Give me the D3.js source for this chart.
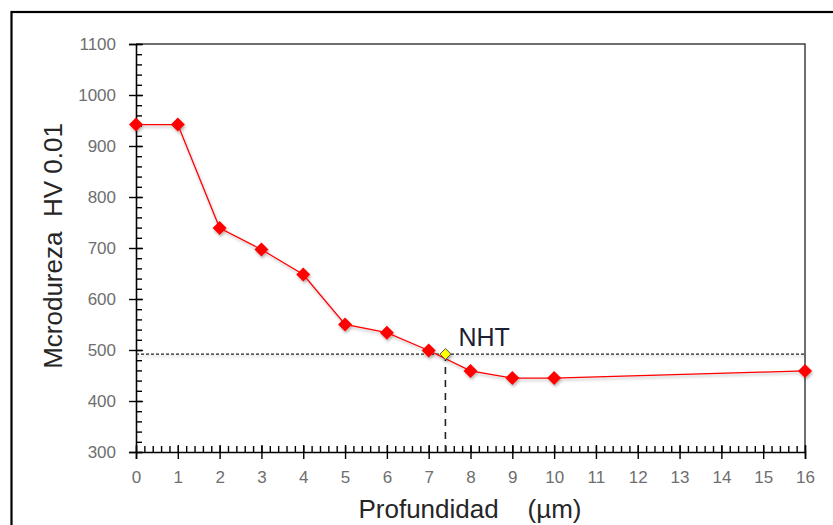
<!DOCTYPE html>
<html>
<head>
<meta charset="utf-8">
<script src="https://cdn.jsdelivr.net/npm/d3@7"></script>
<style>
  body { margin: 0; background: #fff; }
  text { font-family: "Liberation Sans", Arial, sans-serif; }
</style>
</head>
<body>
<div id="wrapper"></div>
<script>
const depth = [0, 1, 2, 3, 4, 5, 6, 7, 8, 9, 10, 16]
const hardness = [942, 942, 739, 697, 648, 550, 534, 499, 459, 445, 445, 459]
const nhtDepth = 7.4
const nhtHardness = 492
const xTicks = d3.range(0, 17, 1)
const yTicks = d3.range(300, 1101, 100)

const dimensions = {
    width: 833,
    height: 525,
    margin: { top: 44, right: 28, bottom: 73, left: 136 }
}
dimensions.boundedWidth = dimensions.width - dimensions.margin.left - dimensions.margin.right
dimensions.boundedHeight = dimensions.height - dimensions.margin.top - dimensions.margin.bottom

const svg = d3.select('#wrapper').append('svg')
    .attr('width', dimensions.width)
    .attr('height', dimensions.height)

// soft excel-like shadow, in user space so flat lines keep it
const defs = svg.append('defs')
defs.append('filter').attr('id', 'shadow')
    .attr('filterUnits', 'userSpaceOnUse')
    .attr('x', -200).attr('y', -200).attr('width', 1300).attr('height', 1000)
    .append('feDropShadow')
    .attr('dx', 1).attr('dy', 2).attr('stdDeviation', 1.5)
    .attr('flood-color', '#000').attr('flood-opacity', 0.3)

// outer frame
svg.append('rect')
    .attr('x', 11.5).attr('y', 12)
    .attr('width', 900).attr('height', 600)
    .attr('fill', 'none').attr('stroke', '#000').attr('stroke-width', 2.2)

const bounds = svg.append('g')
    .attr('transform', `translate(${dimensions.margin.left}, ${dimensions.margin.top})`)

const xScale = d3.scaleLinear().domain([0, 16]).range([0, dimensions.boundedWidth])
const yScale = d3.scaleLinear().domain([300, 1100]).range([dimensions.boundedHeight, 0])

// plot area top/right border
bounds.append('path')
    .attr('d', `M0,0H${dimensions.boundedWidth}V${dimensions.boundedHeight}`)
    .attr('fill', 'none').attr('stroke', '#404040').attr('stroke-width', 1.5)

// minor ticks (inside)
const xMinor = bounds.append('g')
    .attr('transform', `translate(0, ${dimensions.boundedHeight})`)
    .call(d3.axisTop(xScale).tickValues(d3.range(0, 16.01, 0.2)).tickSize(6).tickFormat(''))
const yMinor = bounds.append('g')
    .call(d3.axisRight(yScale).tickValues(d3.range(300, 1100.1, 20)).tickSize(6).tickFormat(''))

// major axes (ticks cross)
const xAxis = bounds.append('g')
    .attr('transform', `translate(0, ${dimensions.boundedHeight})`)
    .call(d3.axisBottom(xScale).tickValues(xTicks).tickSize(7).tickPadding(12).tickFormat(d3.format('d')))
xAxis.selectAll('.tick line').clone().attr('y2', -7)

const yAxis = bounds.append('g')
    .call(d3.axisLeft(yScale).tickValues(yTicks).tickSize(7).tickPadding(13).tickFormat(d3.format('d')))
yAxis.selectAll('.tick line').clone().attr('x2', 7)

;[xMinor, yMinor, xAxis, yAxis].forEach(g => {
    g.select('.domain').attr('stroke', '#000').attr('stroke-width', 1.6)
    g.selectAll('.tick line').attr('stroke', '#000').attr('stroke-width', 1.4)
    g.selectAll('.tick text')
        .attr('fill', '#6e6e6e')
        .style('font-size', '17px')
})
xMinor.select('.domain').remove()
yMinor.select('.domain').remove()

// NHT reference lines
bounds.append('line')
    .attr('x1', 0).attr('x2', dimensions.boundedWidth)
    .attr('y1', yScale(nhtHardness)).attr('y2', yScale(nhtHardness))
    .attr('stroke', '#222').attr('stroke-width', 1.3)
    .attr('stroke-dasharray', '3,2')
    .attr('filter', 'url(#shadow)')
bounds.append('line')
    .attr('x1', xScale(nhtDepth)).attr('x2', xScale(nhtDepth))
    .attr('y1', yScale(nhtHardness)).attr('y2', dimensions.boundedHeight)
    .attr('stroke', '#222').attr('stroke-width', 1.6)
    .attr('stroke-dasharray', '7,6')

// series
const points = depth.map((d, i) => ({ x: d, y: hardness[i] }))
const series = bounds.append('g').attr('filter', 'url(#shadow)')
series.append('path')
    .datum(points)
    .attr('d', d3.line().x(d => xScale(d.x)).y(d => yScale(d.y)))
    .attr('fill', 'none').attr('stroke', '#ff0000').attr('stroke-width', 1.3)

const diamond = r => `M0,${-r}L${r},0L0,${r}L${-r},0Z`
series.selectAll('path.marker')
    .data(points)
    .enter()
    .append('path')
    .attr('class', 'marker')
    .attr('d', diamond(7))
    .attr('transform', d => `translate(${xScale(d.x)}, ${yScale(d.y)})`)
    .attr('fill', '#ff0000')

bounds.append('g')
    .attr('filter', 'url(#shadow)')
    .append('path')
    .attr('d', diamond(5.5))
    .attr('transform', `translate(${xScale(nhtDepth)}, ${yScale(nhtHardness)})`)
    .attr('fill', '#ffff00').attr('stroke', '#555').attr('stroke-width', 1)

bounds.append('text')
    .attr('x', xScale(nhtDepth) + 13)
    .attr('y', yScale(nhtHardness) - 8)
    .attr('fill', '#1c2033')
    .style('font-size', '25px')
    .text('NHT')

// axis titles
svg.append('text')
    .attr('x', 470).attr('y', 518)
    .attr('text-anchor', 'middle')
    .attr('fill', '#262626')
    .style('font-size', '26px')
    .style('white-space', 'pre')
    .text('Profundidad    (µm)')

svg.append('text')
    .attr('transform', `translate(62, ${dimensions.margin.top + dimensions.boundedHeight / 2 - 2}) rotate(-90)`)
    .attr('text-anchor', 'middle')
    .attr('fill', '#262626')
    .style('font-size', '26px')
    .style('white-space', 'pre')
    .text('Mcrodureza  HV 0.01')
</script>
</body>
</html>
